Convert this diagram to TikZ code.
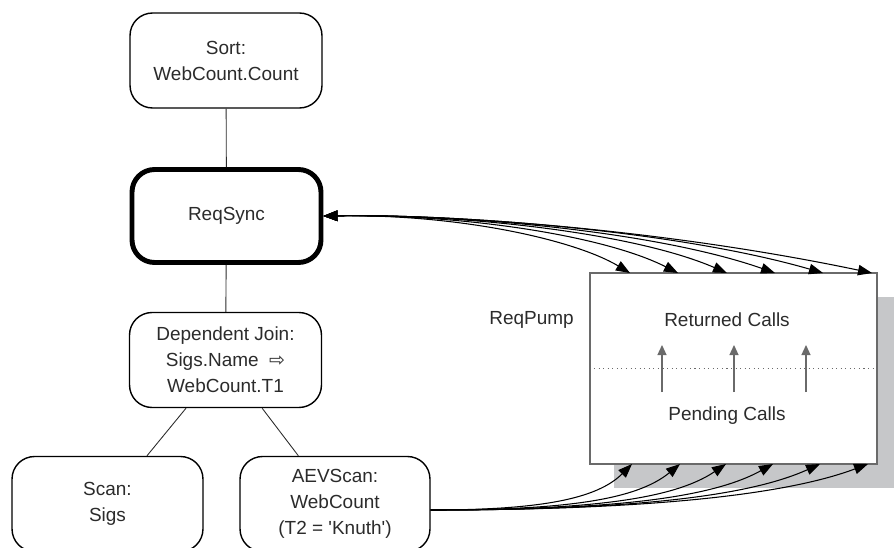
\documentclass[tikz,border=0pt]{standalone}
\usepackage{fontspec}
\setmainfont{Liberation Sans}
\newfontfamily\arrowfont{DejaVu Sans}
\usetikzlibrary{arrows.meta,shadows}
\definecolor{inkgray}{HTML}{2B2B2B}
\definecolor{framegray}{HTML}{6A6A6A}
\definecolor{shadegray}{HTML}{C6C7C9}
\begin{document}
\begin{tikzpicture}[x=0.02cm, y=-0.02cm,
        every node/.style={text=inkgray, font=\fontsize{10.8}{14.8}\selectfont},
        op/.style={draw=black, line width=0.8pt, rounded corners=0.45cm, align=center,
            minimum width=3.84cm, minimum height=1.9cm},
        sync/.style={op, line width=2.8pt, minimum width=3.78cm, minimum height=1.86cm},
        tree/.style={draw=inkgray, line width=0.5pt},
        fan/.style={line width=0.6pt, -{Triangle[length=0.28cm, width=0.21cm]}},
        twofan/.style={line width=0.6pt,
            {Triangle[length=0.28cm, width=0.21cm]}-{Triangle[length=0.28cm, width=0.21cm]}},
        lift/.style={draw=framegray, line width=0.7pt, -{Triangle[length=0.2cm, width=0.18cm]}}]
    % the frame
    \path[clip] (0,0) rectangle (894,548);

    % the plan
    \node[op] (sort) at (226,60.5) {Sort:\\WebCount.Count};
    \node[sync] (reqsync) at (226.5,216) {ReqSync};
    \node[op] (join) at (225.5,360) {Dependent Join:\\Sigs.Name\ \ {\arrowfont ⇨}\\WebCount.T1};
    \node[op, minimum width=3.82cm] (scan) at (107.5,504) {Scan:\\Sigs};
    \node[op, minimum width=3.8cm] (aev) at (335,504)
        {AEVScan:\\WebCount\\(T2 = \textquotesingle Knuth\textquotesingle)};

    \draw[tree] (sort) -- (reqsync);
    \draw[tree] (reqsync) -- (join);
    \draw[tree] (join) -- (scan);
    \draw[tree] (join) -- (aev);

    % the pump
    \node[draw=framegray, line width=0.7pt, fill=white, minimum width=5.74cm, minimum height=3.82cm,
        drop shadow={shadow xshift=0.48cm, shadow yshift=-0.48cm, fill=shadegray, opacity=1}]
        (pump) at (733.5,368.5) {};
    \node[anchor=east] (pumplabel) at (580,320) {ReqPump};
    \node (returned) at (727,320) {Returned Calls};
    \node (pending) at (727,416) {Pending Calls};
    \draw[framegray, dotted, line width=0.6pt] (pump.west) -- (pump.east);

    \foreach \x [count=\i] in {662,734,806} {
        \coordinate (low\i) at (\x,392);
        \coordinate (high\i) at (\x,345);
        \draw[lift] (low\i) -- (high\i);
    };

    % calls going out of ReqSync
    \foreach \x/\l/\d [count=\i] in {630/55/33, 678/75/38, 727/95/41,
                                     775/120/42, 823/145/42, 872/200/42} {
        \coordinate (top\i) at (\x,273);
        \draw[twofan] (reqsync.east)
            .. controls (460,214) and ({\x-\l},{273-\d}) .. (top\i);
    };

    % calls coming in from AEVScan
    \foreach \x/\c/\l/\d [count=\i] in {632/540/35/35, 680/560/45/37, 726/580/55/37,
                                        773/600/65/36, 820/620/75/34, 868/640/85/32} {
        \coordinate (bot\i) at (\x,464);
        \draw[fan] ([yshift=-0.12cm]aev.east)
            .. controls (\c,510) and ({\x-\l},{464+\d}) .. (bot\i);
    };
\end{tikzpicture}
\end{document}
